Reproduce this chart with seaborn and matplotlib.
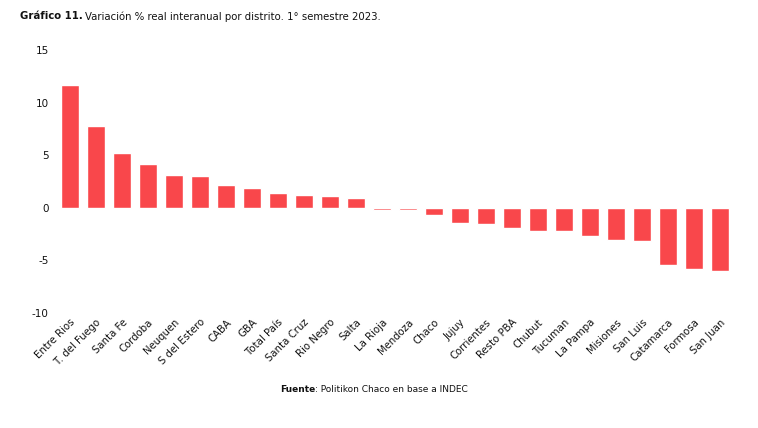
import matplotlib
matplotlib.use("Agg")
import matplotlib.pyplot as plt
import seaborn as sns
import pandas as pd

# Datos
distritos = ["Entre Rios", "T. del Fuego", "Santa Fe", "Cordoba", "Neuquen", "S del Estero",
             "CABA", "GBA", "Total País", "Santa Cruz", "Rio Negro", "Salta", "La Rioja",
             "Mendoza", "Chaco", "Jujuy", "Corrientes", "Resto PBA", "Chubut", "Tucuman",
             "La Pampa", "Misiones", "San Luis", "Catamarca", "Formosa", "San Juan"]
variacion = [11.7, 7.8, 5.2, 4.2, 3.1, 3.0, 2.2, 1.9, 1.4, 1.2, 1.1, 0.9, -0.2,
             -0.2, -0.7, -1.45, -1.55, -1.95, -2.25, -2.25, -2.65, -3.05, -3.2,
             -5.45, -5.85, -6.05]
yticks = [-10, -5, 0, 5, 10, 15]

df = pd.DataFrame({"distrito": distritos, "variacion": variacion})

sns.set_theme(style="white")
plt.rcParams["font.family"] = ["DejaVu Sans"]

fig = plt.figure(figsize=(7.58, 4.28), dpi=100)
ax = fig.add_axes([0.0752, 0.2687, 0.8918, 0.6143])

sns.barplot(data=df, x="distrito", y="variacion", color="#F9474B", saturation=1,
            width=0.71, ax=ax)

ax.set_ylim(-10, 15)
ax.set_xlim(-0.5, len(distritos) - 0.5)
ax.set_yticks(yticks)
ax.set_yticklabels([str(v) for v in yticks], fontsize=7.5, color="#111111")
ax.set_xticks(range(len(distritos)))
ax.set_xticklabels(distritos, rotation=45, ha="right", rotation_mode="anchor",
                   fontsize=7.3, color="#111111")
ax.tick_params(axis="both", length=0, pad=3)
ax.tick_params(axis="y", pad=6)
ax.set_xlabel("")
ax.set_ylabel("")
sns.despine(ax=ax, left=True, bottom=True)

# titulo en dos partes (negrita + normal)
renderer = fig.canvas.get_renderer()
t1 = fig.text(0.026, 0.962, "Gráfico 11.", fontsize=7.3, fontweight="bold",
              color="#111111", va="center", ha="left")
bb = t1.get_window_extent(renderer).transformed(fig.transFigure.inverted())
fig.text(bb.x1 + 0.004, 0.962, "Variación % real interanual por distrito. 1° semestre 2023.",
         fontsize=7.3, color="#111111", va="center", ha="left")

t2 = fig.text(0.369, 0.089, "Fuente", fontsize=6.5, fontweight="bold", color="#111111",
              va="center", ha="left")
bb2 = t2.get_window_extent(renderer).transformed(fig.transFigure.inverted())
fig.text(bb2.x1, 0.089, ": Politikon Chaco en base a INDEC", fontsize=6.5,
         color="#111111", va="center", ha="left")

fig.savefig("out.png", dpi=100)
